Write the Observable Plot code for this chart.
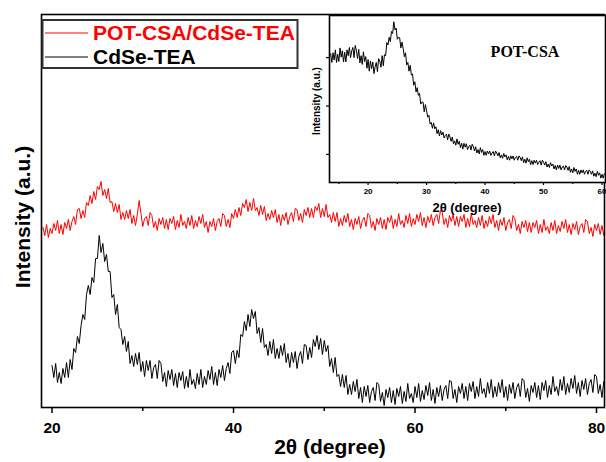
<!DOCTYPE html>
<html><head><meta charset="utf-8">
<script src="https://cdn.jsdelivr.net/npm/d3@7"></script>
<script src="https://cdn.jsdelivr.net/npm/@observablehq/plot@0.6"></script>
<style>
body{margin:0;background:#fff;}
#wrap{position:relative;width:606px;height:462px;font-family:"Liberation Sans",Arial,sans-serif;overflow:hidden;}
#main,#inset,#legend{position:absolute;}
#main{left:0;top:0;}
#inset{left:300px;top:0;}
#legend{left:41px;top:19px;}
</style></head>
<body><div id="wrap"><div id="main"></div><div id="inset"></div><div id="legend"></div></div>
<script>
// ---- data ----
const seriesNames = ["POT-CSA/CdSe-TEA", "CdSe-TEA"];
const seriesColors = ["#ff0000", "#000000"];
const step = 0.2;             // 2θ sampling step (degree)
const redStart = 19.0;        // first 2θ of POT-CSA/CdSe-TEA
const blackStart = 20.0;      // first 2θ of CdSe-TEA
const insetStart = 13.6;      // first 2θ of POT-CSA (inset)
const mainTicks = [20, 40, 60, 80];
const mainMinorTicks = [30, 50, 70];
const insetTicks = [20, 30, 40, 50, 60];
const insetMinorTicks = [15, 25, 35, 45, 55];
const insetYTicks = [1, 2, 3];

const redIntensity = [
180,172,183,170,179, 174,184,177,187,174, 183,173,185,179,188, 177,186,191,183,198,
199,189,197,190,205, 202,212,204,216,208, 221,218,226,212,218, 209,219,205,206,196,
204,195,203,188,195, 188,197,189,198,184, 192,182,193,207,194, 181,189,191,182,195,
192,180,186,177,189, 183,190,179,188,178, 189,184,191,178,187, 180,193,182,186,179,
190,182,192,179,187, 181,191,184,193,180, 186,175,186,181,189, 177,186,189,181,194,
192,181,188,180,194, 189,198,190,200,192, 204,200,208,196,205, 197,209,197,200,192,
202,193,201,187,194, 188,197,190,198,185, 193,182,193,187,195, 183,191,195,186,199,
198,187,194,185,198, 192,200,190,199,190, 201,197,204,190,199, 191,203,190,193,185,
195,186,195,181,189, 182,192,185,194,181, 188,178,189,183,191, 179,187,190,181,194,
192,180,186,177,189, 183,190,179,188,178, 190,185,192,179,188, 181,194,183,187,180,
192,184,194,181,189, 183,193,186,195,182, 190,180,191,185,193, 182,190,193,184,197,
195,183,189,180,192, 186,193,182,191,181, 191,186,193,180,189, 181,194,183,187,180,
190,182,192,179,187, 181,191,184,193,180, 187,177,188,182,190, 177,185,188,179,192,
189,177,183,174,186, 180,187,176,185,175, 185,180,187,174,183, 175,188,177,181,174,
185,177,187,174,182, 176,186,179,188,175, 183,173,184,178,186, 173,181,184,175,188,
186,174,180,171,183, 177,184,173,182,172];

const blackIntensity = [
42,30,44,25,35, 24,39,30,45,30, 48,38,59,55,71, 64,82,93,88,113,
122,113,130,125,149, 149,172,155,164,146, 153,136,136,110,113, 93,103,80,78,63,
71,56,66,44,52, 41,54,43,55,36, 46,31,47,37,47, 29,40,43,29,47,
44,26,35,21,37, 28,38,22,34,20, 35,27,36,19,31, 20,38,23,28,19,
34,23,38,20,31, 23,37,28,41,23, 35,22,38,30,42, 27,39,45,34,55,
57,44,57,50,73, 71,86,77,93,81, 98,89,96,74,80, 65,79,60,63,52,
66,54,68,49,59, 49,62,52,64,45, 54,40,55,45,56, 39,51,56,44,63,
62,48,60,50,68, 61,72,58,69,53, 67,56,62,41,49, 35,50,31,33,21,
33,20,32,13,23, 13,26,16,28,9, 20,5,21,11,22, 5,16,20,7,25,
23,6,15,2,18, 10,20,5,17,3, 19,11,21,4,16, 6,24,9,14,5,
21,10,24,6,17, 8,22,12,25,7, 18,4,20,11,22, 7,18,22,9,27,
26,9,18,5,21, 14,24,9,21,7, 24,16,26,9,21, 11,29,14,19,10,
25,14,28,10,21, 11,25,15,28,10, 21,7,23,14,25, 9,20,24,11,29,
27,10,19,6,22, 15,25,10,22,8, 25,17,27,10,22, 13,31,16,21,12,
28,17,31,13,24, 15,29,19,32,14, 25,11,27,18,29, 13,24,28,15,33,
31,14,23,10,26];

const insetIntensity = [
3.08,2.90,
3.10,2.95,3.16,2.90,3.07, 2.92,3.20,3.01,3.14,2.91, 3.11,2.91,3.16,3.04,3.21, 3.00,3.14,3.21,3.00,3.25,
3.15,2.98,3.17,2.89,3.04, 2.86,3.12,2.92,3.02,2.78, 2.96,2.72,2.93,2.77,2.91, 2.67,2.81,2.90,2.71,2.98,
2.93,2.80,3.04,2.83,3.06, 3.04,3.31,3.26,3.42,3.33, 3.54,3.50,3.74,3.57,3.61, 3.38,3.42,3.41,3.20,3.32,
3.19,3.02,3.10,2.85,2.90, 2.72,2.84,2.64,2.66,2.43, 2.50,2.29,2.38,2.22,2.26, 2.04,2.08,2.08,1.88,2.03,
1.90,1.77,1.81,1.63,1.66, 1.54,1.65,1.53,1.57,1.43, 1.51,1.38,1.49,1.40,1.46, 1.34,1.39,1.42,1.30,1.42,
1.36,1.27,1.36,1.22,1.28, 1.19,1.32,1.21,1.27,1.14, 1.23,1.11,1.23,1.15,1.22, 1.10,1.16,1.19,1.09,1.21,
1.16,1.07,1.16,1.03,1.10, 1.01,1.14,1.04,1.10,0.98, 1.06,0.98,1.07,1.01,1.07, 0.98,1.03,1.06,0.97,1.07,
1.03,0.97,1.04,0.93,0.99, 0.92,1.02,0.95,0.99,0.89, 0.96,0.88,0.97,0.91,0.97, 0.88,0.94,0.96,0.88,0.97,
0.94,0.87,0.95,0.83,0.90, 0.82,0.93,0.85,0.90,0.79, 0.87,0.79,0.88,0.82,0.88, 0.79,0.84,0.87,0.78,0.88,
0.84,0.78,0.85,0.74,0.80, 0.73,0.83,0.76,0.80,0.70, 0.77,0.68,0.78,0.71,0.78, 0.68,0.74,0.76,0.68,0.77,
0.74,0.67,0.75,0.63,0.70, 0.62,0.73,0.65,0.70,0.59, 0.67,0.59,0.68,0.62,0.68, 0.59,0.65,0.67,0.59,0.68,
0.65,0.59,0.66,0.55,0.61, 0.54,0.65,0.57,0.62,0.51,
0.59,0.51,0.60];

// ---- tables ----
const redData = redIntensity.map((v, i) => ({x: redStart + i * step, y: v}));
const blackData = blackIntensity.map((v, i) => ({x: blackStart + i * step, y: v}));
const insetData = insetIntensity.map((v, i) => ({x: insetStart + i * step, y: v}));

const FONT = "'Liberation Sans', Arial, sans-serif";

// ---- main chart ----
const main = Plot.plot({
  width: 606, height: 462,
  marginLeft: 41, marginRight: 2, marginTop: 14, marginBottom: 55,
  x: {domain: [18.84, 80.88]},
  y: {domain: [0, 393], axis: null},
  style: {fontFamily: FONT, background: "white", color: "black", overflow: "visible"},
  marks: [
    Plot.line(redData, {x: "x", y: "y", stroke: seriesColors[0], strokeWidth: 1}),
    Plot.line(blackData, {x: "x", y: "y", stroke: seriesColors[1], strokeWidth: 1}),
    Plot.frame({stroke: "black", strokeWidth: 1.6}),
    Plot.axisX({ticks: mainTicks, tickSize: 6, tickPadding: 8, fontSize: 15.5, fontWeight: "bold", strokeWidth: 1.5, label: null}),
    Plot.axisX({ticks: mainMinorTicks, tickSize: 4, text: null, strokeWidth: 1.5, label: null})
  ]
});
const ms = d3.select(main);
ms.append("text").attr("x", 330).attr("y", 454).attr("text-anchor", "middle")
  .attr("font-size", 21).attr("font-weight", "bold").attr("font-family", FONT).attr("fill", "black")
  .text("2θ (degree)");
ms.append("text").attr("transform", "translate(30,217) rotate(-90)").attr("text-anchor", "middle")
  .attr("font-size", 21).attr("font-weight", "bold").attr("font-family", FONT).attr("fill", "black")
  .text("Intensity (a.u.)");
document.getElementById("main").appendChild(main);

// ---- inset ----
const inset = Plot.plot({
  width: 306, height: 220,
  marginLeft: 29, marginRight: 1, marginTop: 15, marginBottom: 38,
  x: {domain: [13.4, 60.6]},
  y: {domain: [0.42, 3.87]},
  style: {fontFamily: FONT, background: "transparent", color: "black", overflow: "visible"},
  marks: [
    Plot.frame({fill: "white", stroke: "none"}),
    Plot.line(insetData, {x: "x", y: "y", stroke: "black", strokeWidth: 1}),
    Plot.frame({stroke: "black", strokeWidth: 1.6}),
    Plot.axisX({ticks: insetTicks, tickSize: 3, tickPadding: 3, fontSize: 8, fontWeight: "bold", strokeWidth: 1.2, label: null}),
    Plot.axisX({ticks: insetMinorTicks, tickSize: 2, text: null, strokeWidth: 1.2, label: null}),
    Plot.axisY({ticks: insetYTicks, tickSize: 3, text: null, strokeWidth: 1.2, label: null})
  ]
});
const is = d3.select(inset);
is.append("text").attr("x", 167).attr("y", 212).attr("text-anchor", "middle")
  .attr("font-size", 13).attr("font-weight", "bold").attr("font-family", FONT).attr("fill", "black")
  .text("2θ (degree)");
is.append("text").attr("transform", "translate(20,101) rotate(-90)").attr("text-anchor", "middle")
  .attr("font-size", 10).attr("font-weight", "bold").attr("font-family", FONT).attr("fill", "black")
  .text("Intensity (a.u.)");
is.append("text").attr("x", 225).attr("y", 57).attr("text-anchor", "middle")
  .attr("font-size", 16).attr("font-weight", "bold").attr("font-family", "'Liberation Serif', 'Times New Roman', serif").attr("fill", "black")
  .text("POT-CSA");
document.getElementById("inset").appendChild(inset);

// ---- legend ----
const lg = d3.select("#legend").append("svg").attr("width", 260).attr("height", 52);
lg.append("rect").attr("x", 1.5).attr("y", 1).attr("width", 255).attr("height", 48)
  .attr("fill", "white").attr("stroke", "#333").attr("stroke-width", 2);
seriesNames.forEach((name, i) => {
  const cy = 14 + i * 24;
  lg.append("line").attr("x1", 4).attr("x2", 47).attr("y1", cy).attr("y2", cy)
    .attr("stroke", seriesColors[i]).attr("stroke-width", 1);
  lg.append("text").attr("x", 52).attr("y", cy + 7).attr("font-size", 21).attr("font-weight", "bold")
    .attr("font-family", FONT).attr("fill", seriesColors[i]).text(name);
});
</script>
</body></html>
